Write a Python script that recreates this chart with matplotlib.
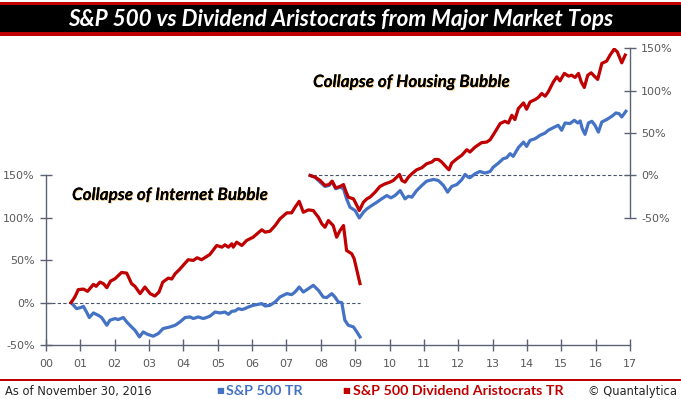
import matplotlib
matplotlib.use("Agg")
import matplotlib.pyplot as plt
import matplotlib.patheffects as pe
from matplotlib.patches import Rectangle

# ---------------- data (decimal year, cumulative return %) ----------------
# Internet bubble (left axis)
net_years_ar = [2000.73, 2000.84, 2000.94, 2001.09, 2001.21, 2001.38, 2001.46, 2001.57, 2001.67, 2001.77,
                2001.88, 2002.01, 2002.20, 2002.35, 2002.49, 2002.59, 2002.74, 2002.88, 2003.03, 2003.17,
                2003.29, 2003.40, 2003.56, 2003.66, 2003.76, 2003.88, 2004.05, 2004.14, 2004.29, 2004.40,
                2004.53, 2004.68, 2004.77, 2004.97, 2005.12, 2005.21, 2005.31, 2005.41, 2005.45, 2005.55,
                2005.70, 2005.84, 2006.03, 2006.28, 2006.38, 2006.52, 2006.67, 2006.81, 2007.01, 2007.15,
                2007.25, 2007.37, 2007.49, 2007.64, 2007.78, 2007.93, 2008.03, 2008.12, 2008.22, 2008.36,
                2008.46, 2008.56, 2008.66, 2008.75, 2008.90, 2008.97, 2009.05, 2009.14]
net_aristocrats = [0, 6.6, 15.3, 16.0, 13.3, 21.5, 19.2, 24.2, 22.4, 17.6,
                   25.4, 28.2, 35.6, 34.8, 22.4, 19.2, 10.6, 18.4, 10.6, 7.8,
                   12.5, 24.2, 28.9, 27.8, 34.1, 38.8, 46.6, 50.6, 49.8, 52.9,
                   50.6, 54.5, 56.8, 67.4, 65.4, 68.2, 65.4, 69.4, 65.4, 71.3,
                   67.4, 73.3, 77.2, 85.9, 83.1, 84.2, 90.9, 98.8, 105.9, 105.9,
                   112.5, 119.5, 106.6, 109.4, 108.6, 100.7, 92.9, 88.9, 96.8, 90.9,
                   77.2, 85.1, 90.9, 61.5, 57.6, 51.8, 38.0, 22.4]

net_years_sp = [2000.73, 2000.89, 2001.01, 2001.09, 2001.18, 2001.26, 2001.38, 2001.52, 2001.62, 2001.77,
                2001.86, 2002.01, 2002.10, 2002.25, 2002.35, 2002.49, 2002.59, 2002.72, 2002.83, 2002.95,
                2003.12, 2003.27, 2003.41, 2003.61, 2003.76, 2003.90, 2004.05, 2004.19, 2004.29, 2004.43,
                2004.58, 2004.77, 2004.92, 2005.07, 2005.21, 2005.31, 2005.41, 2005.50, 2005.60, 2005.70,
                2005.79, 2005.89, 2006.03, 2006.18, 2006.28, 2006.38, 2006.52, 2006.67, 2006.81, 2007.01,
                2007.15, 2007.25, 2007.37, 2007.49, 2007.64, 2007.78, 2007.93, 2008.07, 2008.17, 2008.32,
                2008.41, 2008.51, 2008.61, 2008.70, 2008.80, 2008.95, 2009.05, 2009.14]
net_sp500 = [0, -7.1, -5.9, -4.4, -11.1, -17.6, -12.2, -14.9, -17.6, -26.7,
             -20.8, -18.8, -20.0, -17.6, -22.8, -28.7, -32.6, -40.5, -34.6, -37.3,
             -39.6, -36.5, -30.6, -28.7, -26.7, -22.8, -17.6, -16.9, -18.8, -16.9,
             -18.8, -16.1, -11.1, -12.2, -11.1, -13.8, -10.2, -9.9, -7.1, -8.2,
             -7.1, -5.2, -3.2, -2.0, -1.2, -4.0, -3.2, 0.7, 6.6, 10.6,
             9.4, 12.5, 18.4, 12.5, 16.5, 20.4, 14.5, 6.6, 5.9, 10.6,
             6.6, 0.7, 0.0, -20.8, -26.7, -28.7, -34.6, -40.5]

# Housing bubble (right axis)
house_years_ar = [2007.69, 2007.83, 2007.98, 2008.12, 2008.24, 2008.33, 2008.43, 2008.56, 2008.66, 2008.72,
                  2008.80, 2008.95, 2009.05, 2009.12, 2009.24, 2009.34, 2009.43, 2009.58, 2009.72, 2009.87,
                  2010.01, 2010.11, 2010.29, 2010.36, 2010.45, 2010.55, 2010.65, 2010.79, 2010.94, 2011.08,
                  2011.23, 2011.32, 2011.42, 2011.52, 2011.67, 2011.73, 2011.81, 2011.96, 2012.10, 2012.25,
                  2012.34, 2012.49, 2012.68, 2012.83, 2012.93, 2013.07, 2013.22, 2013.36, 2013.46, 2013.56,
                  2013.65, 2013.75, 2013.90, 2013.99, 2014.09, 2014.24, 2014.33, 2014.43, 2014.53, 2014.62,
                  2014.77, 2014.87, 2014.96, 2015.09, 2015.21, 2015.30, 2015.40, 2015.50, 2015.58, 2015.67,
                  2015.77, 2015.87, 2015.96, 2016.06, 2016.18, 2016.32, 2016.42, 2016.54, 2016.63, 2016.76,
                  2016.86]
house_aristocrats = [0, -2.0, -5.9, -11.8, -10.7, -6.7, -14.6, -13.0, -10.7, -17.8,
                     -25.6, -27.6, -35.5, -41.4, -31.6, -27.6, -25.6, -19.7, -13.0, -9.9,
                     -7.9, -5.9, 1.2, -5.9, -7.9, -2.0, 2.0, 6.7, 9.1, 13.8,
                     15.8, 18.9, 18.9, 15.8, 9.1, 6.7, 14.6, 19.7, 23.7, 30.4,
                     27.6, 33.5, 38.7, 39.4, 42.2, 51.2, 61.2, 63.9, 61.9, 71.0,
                     65.9, 78.9, 85.6, 78.1, 86.7, 89.6, 92.0, 96.7, 93.5, 98.6,
                     110.4, 116.3, 111.6, 120.4, 117.2, 118.3, 115.6, 120.4, 110.4, 103.8,
                     118.3, 121.1, 117.2, 113.3, 132.2, 134.9, 142.0, 149.1, 145.9, 132.9,
                     142.0]

house_years_sp = [2007.69, 2007.83, 2007.98, 2008.12, 2008.24, 2008.33, 2008.43, 2008.56, 2008.66, 2008.75,
                  2008.85, 2009.00, 2009.12, 2009.24, 2009.34, 2009.48, 2009.63, 2009.77, 2009.92, 2010.04,
                  2010.16, 2010.31, 2010.45, 2010.55, 2010.65, 2010.79, 2010.94, 2011.08, 2011.28, 2011.42,
                  2011.57, 2011.69, 2011.81, 2011.96, 2012.10, 2012.20, 2012.29, 2012.34, 2012.49, 2012.63,
                  2012.78, 2012.93, 2013.02, 2013.17, 2013.31, 2013.41, 2013.51, 2013.60, 2013.75, 2013.90,
                  2013.99, 2014.09, 2014.24, 2014.38, 2014.53, 2014.62, 2014.77, 2014.91, 2015.01, 2015.11,
                  2015.25, 2015.38, 2015.48, 2015.55, 2015.61, 2015.69, 2015.79, 2015.89, 2015.98, 2016.08,
                  2016.18, 2016.32, 2016.47, 2016.59, 2016.68, 2016.76, 2016.88]
house_sp500 = [0, -2.0, -7.9, -13.0, -11.8, -7.1, -15.7, -13.8, -15.7, -27.6,
               -37.5, -41.4, -50.1, -43.4, -39.4, -35.5, -31.6, -27.6, -23.7, -26.4,
               -23.7, -17.8, -27.6, -24.5, -25.6, -17.8, -11.8, -6.7, -4.7, -5.9,
               -11.8, -19.7, -13.0, -10.7, -5.1, 1.2, -2.0, -2.7, 2.0, 4.7,
               2.8, 4.7, 9.8, 14.6, 19.8, 20.9, 25.7, 22.5, 32.8, 39.4,
               34.3, 41.4, 43.4, 47.3, 50.1, 53.3, 56.4, 59.2, 53.3, 61.9,
               61.2, 65.1, 61.9, 64.3, 55.3, 48.5, 61.9, 63.9, 59.2, 51.2,
               63.1, 65.9, 69.8, 73.7, 73.0, 69.0, 75.7]

# zero-reference spans (decimal years)
net_zero_span = [1999.68, 2009.14]
house_zero_span = [2007.78, 2017.0]

x_ticks = list(range(2000, 2018))
x_labels = [f"{y % 100:02d}" for y in x_ticks]
y_ticks = [-50, 0, 50, 100, 150]
y_labels = ["-50%", "0%", "50%", "100%", "150%"]

title = "S&P 500 vs Dividend Aristocrats from Major Market Tops"
note_net = "Collapse of Internet Bubble"
note_house = "Collapse of Housing Bubble"
footer_left = "As of November 30, 2016"
legend_sp = "S&P 500 TR"
legend_ar = "S&P 500 Dividend Aristocrats TR"
footer_right = "© Quantalytica"

# ---------------- styling ----------------
BLUE = "#4472C4"
RED = "#C00000"
AXIS = "#5A6172"
TICKTXT = "#595959"
W, H = 681, 399

fig = plt.figure(figsize=(W / 100, H / 100), dpi=100)
fig.patch.set_facecolor("white")

def fy(px):  # pixel from top -> figure fraction
    return 1 - px / H

# title band
fig.patches.append(Rectangle((0, fy(35.5)), 1, (35.5 - 2) / H, transform=fig.transFigure,
                             facecolor=RED, edgecolor="none", zorder=0))
fig.patches.append(Rectangle((0, fy(32.3)), 1, (32.3 - 5) / H, transform=fig.transFigure,
                             facecolor="black", edgecolor="none", zorder=1))
fig.text(0.5, fy(19), title, ha="center", va="center", color="white",
         fontsize=16.2, fontweight="bold", fontstyle="italic", family="Lato", zorder=2)

# main axes
left_px, right_px, bot_px, top_px = 46, 630, 345, 48.3
ax = fig.add_axes([left_px / W, 1 - bot_px / H, (right_px - left_px) / W, (bot_px - top_px) / H])
ax.set_facecolor("none")
ax.set_xlim(2000, 2017)
ax.set_ylim(-50, 300)
ax2 = ax.twinx()
ax2.set_ylim(-200, 150)

lw = 2.3
ax.plot(net_zero_span, [0, 0], color="#44546A", lw=0.8, ls=(0, (3, 2)), zorder=1)
ax2.plot(house_zero_span, [0, 0], color="#44546A", lw=0.8, ls=(0, (3, 2)), zorder=1)
ax.plot(net_years_sp, net_sp500, color=BLUE, lw=lw, zorder=3, solid_joinstyle="round")
ax.plot(net_years_ar, net_aristocrats, color=RED, lw=lw, zorder=4, solid_joinstyle="round")
ax2.plot(house_years_sp, house_sp500, color=BLUE, lw=lw, zorder=3, solid_joinstyle="round")
ax2.plot(house_years_ar, house_aristocrats, color=RED, lw=lw, zorder=4, solid_joinstyle="round")

for a in (ax, ax2):
    for s in a.spines.values():
        s.set_visible(False)
ax.spines["left"].set_visible(True)
ax.spines["left"].set_bounds(-50, 150)
ax.spines["bottom"].set_visible(True)
ax2.spines["right"].set_visible(True)
ax2.spines["right"].set_bounds(-50, 150)
for s in (ax.spines["left"], ax.spines["bottom"], ax2.spines["right"]):
    s.set_color(AXIS)
    s.set_linewidth(1.0)

ax.set_xticks(x_ticks)
ax.set_xticklabels(x_labels)
ax.set_yticks(y_ticks)
ax.set_yticklabels(y_labels)
ax2.set_yticks(y_ticks)
ax2.set_yticklabels(y_labels)
ax.tick_params(axis="x", direction="inout", length=8, width=1, color=AXIS,
               labelcolor=TICKTXT, labelsize=8, pad=6)
ax.tick_params(axis="y", direction="inout", length=8, width=1, color=AXIS,
               labelcolor=TICKTXT, labelsize=8, pad=4)
ax2.tick_params(axis="y", direction="inout", length=8, width=1, color=AXIS,
                labelcolor=TICKTXT, labelsize=8, pad=4)

shadow = [pe.withSimplePatchShadow(offset=(0.7, -0.7), shadow_rgbFace="#F6C26B", alpha=0.75),
          pe.Normal()]
fig.text(72 / W, fy(195), note_net, ha="left", va="center", fontsize=12.3,
         fontweight="bold", fontstyle="italic", family="Lato", color="black", path_effects=shadow)
fig.text(313 / W, fy(82), note_house, ha="left", va="center", fontsize=12.3,
         fontweight="bold", fontstyle="italic", family="Lato", color="black", path_effects=shadow)

# footer
fig.patches.append(Rectangle((0, fy(381)), 1, 2.5 / H, transform=fig.transFigure,
                             facecolor=RED, edgecolor="none"))
fig.text(5 / W, fy(391), footer_left, ha="left", va="center", fontsize=8.3,
         color="#262626", family="DejaVu Sans")
fig.text(216 / W, fy(391), "■", ha="left", va="center", fontsize=6, color=BLUE,
         family="DejaVu Sans")
fig.text(226 / W, fy(391), legend_sp, ha="left", va="center", fontsize=10.3,
         fontweight="bold", color=BLUE, family="Lato")
fig.text(342 / W, fy(391), "■", ha="left", va="center", fontsize=6, color=RED,
         family="DejaVu Sans")
fig.text(353 / W, fy(391), legend_ar, ha="left", va="center", fontsize=10.3,
         fontweight="bold", color=RED, family="Lato")
fig.text(677 / W, fy(391), footer_right, ha="right", va="center", fontsize=8.3,
         color="#262626", family="DejaVu Sans")

fig.savefig("out.png", dpi=100)
